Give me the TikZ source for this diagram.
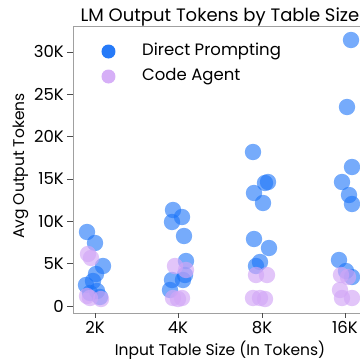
\documentclass[tikz,border=0pt]{standalone}
\usepackage{fontspec}
\setmainfont{Poppins}
\definecolor{dpblue}{HTML}{1A73F8}
\definecolor{capurple}{HTML}{D2A6F6}
\definecolor{spinegray}{HTML}{A0A0A0}
\begin{document}
\begin{tikzpicture}[x=1pt,y=-1pt,
  dp/.style={fill=dpblue,fill opacity=0.6,draw=none},
  ca/.style={fill=capurple,fill opacity=0.65,draw=none},
  spine/.style={draw=spinegray,line width=0.9pt},
  tickmark/.style={draw=black!70,line width=0.7pt},
  ticklab/.style={font=\fontsize{16.5}{16.5}\selectfont,inner sep=0pt},
  lab/.style={font=\fontsize{15.5}{15.5}\selectfont,inner sep=0pt},
  leglab/.style={font=\fontsize{16.5}{16.5}\selectfont,inner sep=0pt},
  titlelab/.style={font=\fontsize{18}{18}\selectfont,inner sep=0pt}]
\useasboundingbox (0,0) rectangle (360,359);
% spines
\coordinate (tl) at (73,26);
\coordinate (bl) at (73,313);
\coordinate (tr) at (360,26);
\coordinate (br) at (360,313);
\draw[spine] (tr) -- (tl) -- (bl) -- (br);
% y ticks
\foreach \v/\t in {0/0,5/5K,10/10K,15/15K,20/20K,25/25K,30/30K}{
  \pgfmathsetmacro{\yy}{306-8.47*\v}
  \coordinate (yt\v) at (73,\yy);
  \coordinate (ytl\v) at (67,\yy);
  \draw[tickmark] (yt\v) -- (ytl\v);
  \node[ticklab,anchor=east] (ylab\v) at (64,\yy) {\t};
}
% x ticks
\foreach \n/\x/\t in {a/95/2K,b/178/4K,c/262/8K,d/345/16K}{
  \coordinate (xt\n) at (\x,313);
  \coordinate (xtb\n) at (\x,318);
  \draw[tickmark] (xt\n) -- (xtb\n);
  \node[ticklab,anchor=base] (xlab\n) at (\x,333) {\t};
}
% labels
\node[titlelab,anchor=base] (title) at (220,21) {LM Output Tokens by Table Size};
\node[lab,anchor=base] (xlabel) at (220,355) {Input Table Size (In Tokens)};
\node[lab,anchor=base,rotate=90] (ylabel) at (24,166) {Avg Output Tokens};
% Direct Prompting points
\foreach \x/\y in {87/232,95/243,103/266,96/274,93/281,86/285,97/291,100/297,90/293,
  173/210,182/217,172/222,184/236,186/261,185/275,183/280,172/280,170/290,
  253/152,268/182,265/183,254/193,263/203,254/239,269/248,260/262,256/266,
  351/40,347/107,352/167,342/182,349/195,352/204,339/260,346/271,352/277}{
  \fill[dp] (\x,\y) circle (8.2);
}
% Code Agent points
\foreach \x/\y in {88/254,91/258,90/298,101/299,87/296,
  175/266,186/270,173/298,182/298,178/299,
  256/275,267/275,253/298,260/298,265/299,
  341/275,348/277,340/290,342/298,352/298}{
  \fill[ca] (\x,\y) circle (8.2);
}
% legend
\node[circle,fill=dpblue,fill opacity=0.95,minimum size=14,inner sep=0pt] (legdp) at (108.5,51.5) {};
\node[circle,fill=capurple,fill opacity=0.9,minimum size=14,inner sep=0pt] (legca) at (108.5,76.5) {};
\node[leglab,anchor=west] (legdptext) at (142,51.5) {Direct Prompting};
\node[leglab,anchor=west] (legcatext) at (142,76.5) {Code Agent};
\end{tikzpicture}
\end{document}
